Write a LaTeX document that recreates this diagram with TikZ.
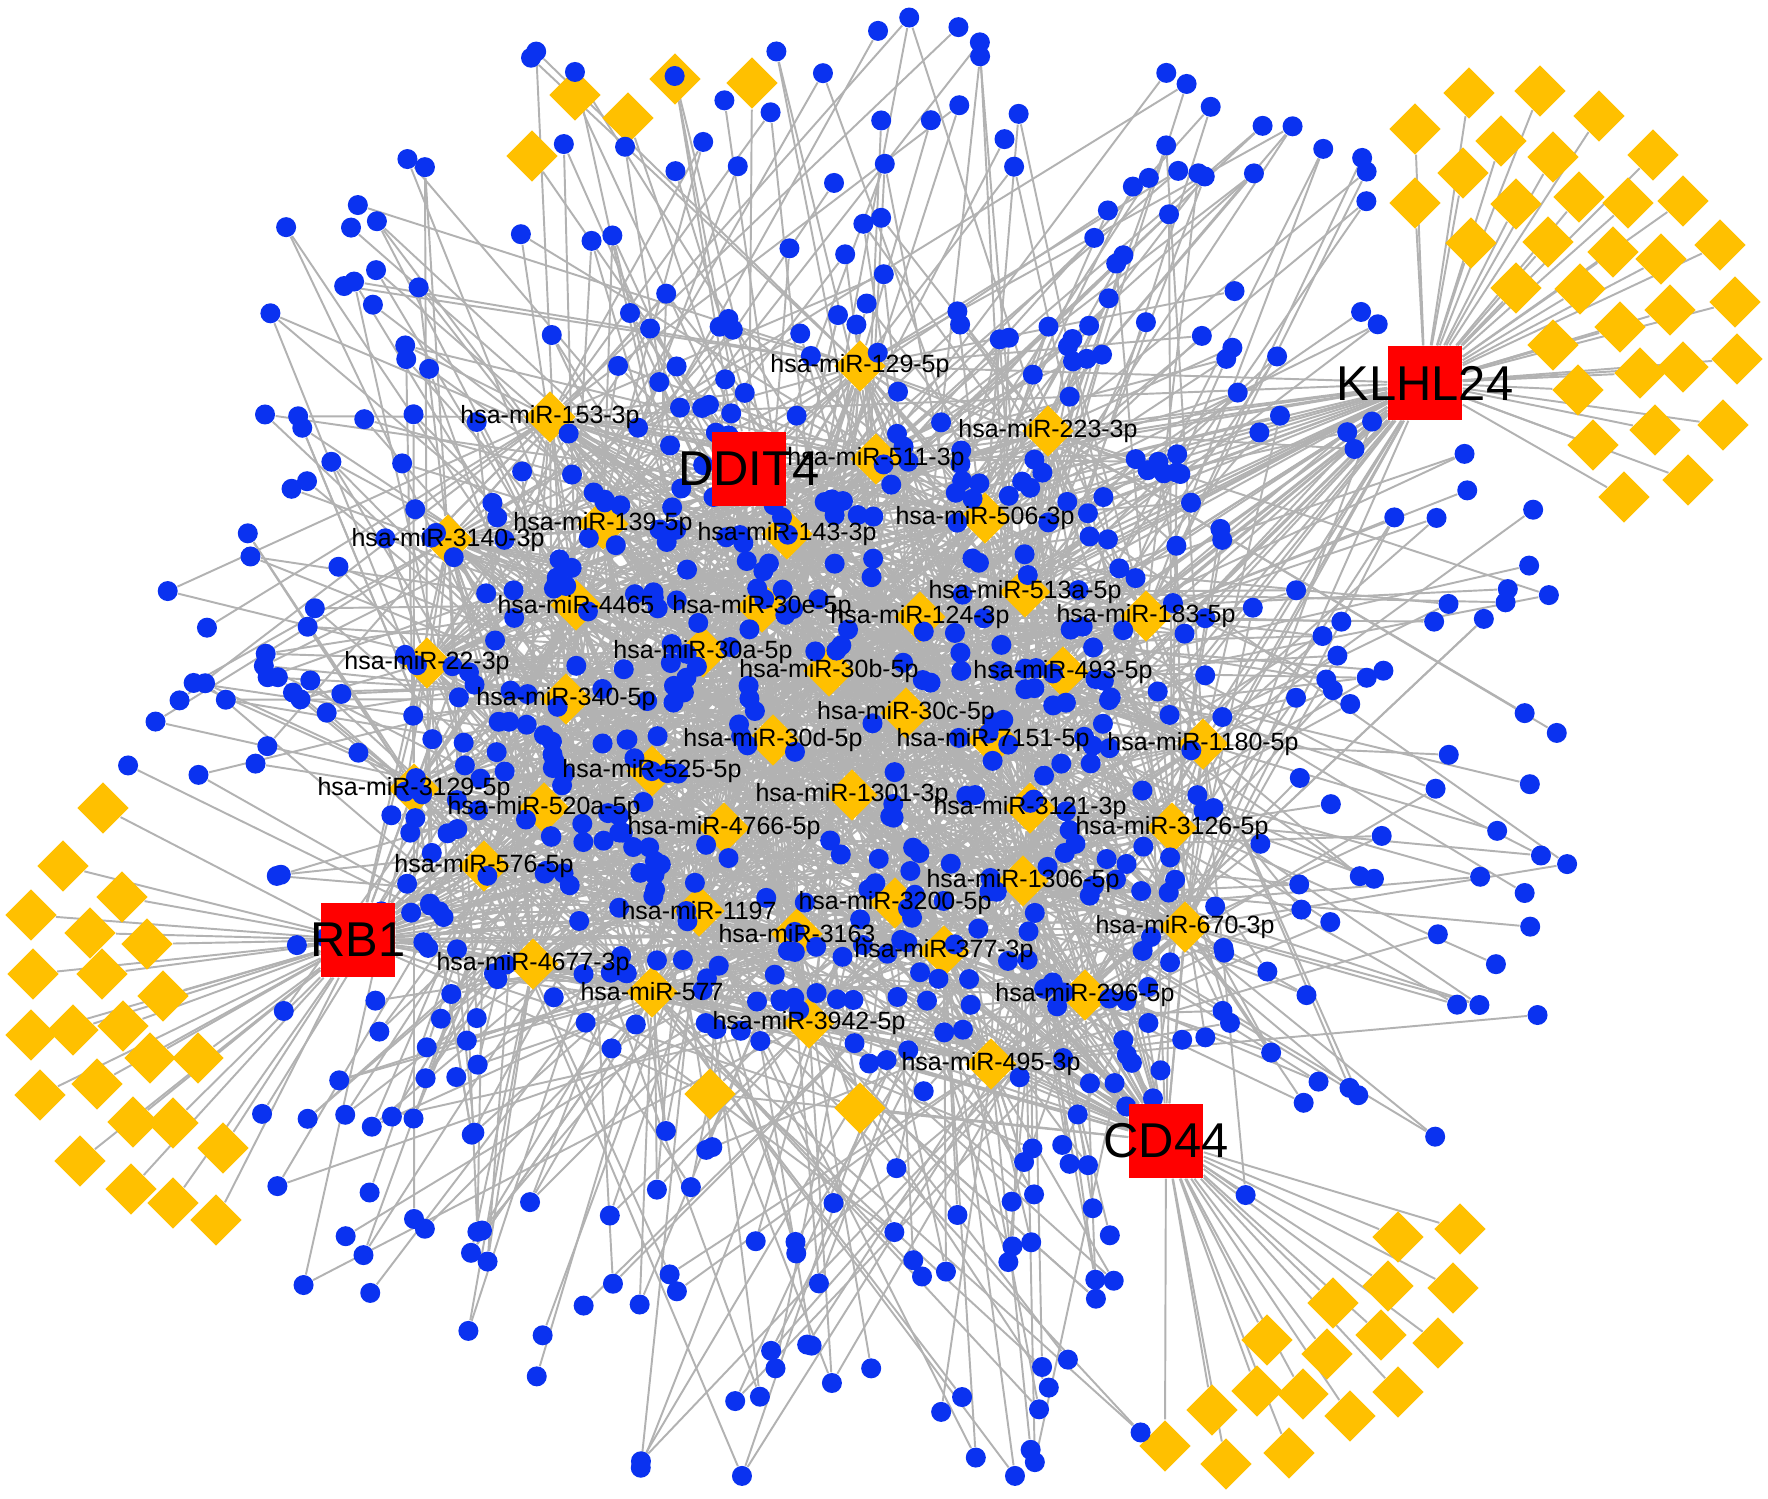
\documentclass[tikz,border=0pt]{standalone}
\usepackage{fontspec}
\setmainfont{Liberation Sans}
\usetikzlibrary{shapes.geometric}
\pgfdeclarelayer{background}
\pgfdeclarelayer{foreground}
\pgfsetlayers{background,main,foreground}
\definecolor{dotblue}{RGB}{10,50,240}
\definecolor{mirorange}{RGB}{255,192,0}
\definecolor{genered}{RGB}{255,0,0}
\definecolor{edgegray}{RGB}{178,178,178}
\def\mirlist{1/860/366/129-5p, 2/550/417/153-3p, 3/1048/431/223-3p, 4/876/459/511-3p,
5/603/524/139-5p, 6/787/534/143-3p, 7/985/518/506-3p, 8/448/540/3140-3p,
9/576/605/4465, 10/762/607/30e-5p, 11/920/617/124-3p, 12/1025/592/513a-5p,
13/1146/616/183-5p, 14/427/663/22-3p, 15/703/652/30a-5p, 16/829/671/30b-5p,
17/1063/672/493-5p, 18/566/699/340-5p, 19/906/713/30c-5p, 20/773/740/30d-5p,
21/993/740/7151-5p, 22/1203/744/1180-5p, 23/652/771/525-5p, 24/414/789/3129-5p,
25/852/795/1301-3p, 26/544/808/520a-5p, 27/1030/808/3121-3p, 28/724/828/4766-5p,
29/1172/828/3126-5p, 30/484/866/576-5p, 31/1023/881/1306-5p, 32/699/911/1197,
33/895/903/3200-5p, 34/797/934/3163, 35/1185/927/670-3p, 36/944/951/377-3p,
37/533/964/4677-3p, 38/652/992/577, 39/1085/995/296-5p, 40/809/1023/3942-5p,
41/991/1064/495-3p}
\def\klist{1/1415/129, 2/1469/93, 3/1540/91, 4/1599/116, 5/1501/141, 6/1553/157,
 7/1463/173, 8/1415/203, 9/1653/155, 10/1516/204, 11/1579/197, 12/1628/203, 13/1683/201,
 14/1471/243, 15/1548/242, 16/1613/252, 17/1661/259, 18/1720/245, 19/1516/288, 20/1580/289,
 21/1670/310, 22/1735/302, 23/1620/327, 24/1553/345, 25/1737/359, 26/1640/373, 27/1683/367,
 28/1578/390, 29/1723/425, 30/1655/430, 31/1593/445, 32/1688/480, 33/1624/497}
\def\rlist{1/103/808, 2/63/866, 3/122/897, 4/31/915, 5/90/933, 6/147/944, 7/33/974,
 8/102/974, 9/163/996, 10/31/1035, 11/73/1030, 12/123/1026, 13/150/1058, 14/198/1058,
 15/40/1095, 16/97/1084, 17/133/1122, 18/173/1123, 19/223/1148, 20/80/1161, 21/131/1189,
 22/173/1203, 23/216/1220}
\def\dlist{1/1398/1237, 2/1460/1229, 3/1388/1286, 4/1453/1288, 5/1333/1303,
 6/1381/1335, 7/1438/1343, 8/1267/1340, 9/1327/1354, 10/1398/1392, 11/1257/1391,
 12/1303/1394, 13/1350/1416, 14/1212/1410, 15/1165/1446, 16/1226/1464, 17/1289/1453}
\def\tlist{1/575/95, 2/675/79, 3/752/83, 4/628/118, 5/532/156}
% random parameters of one outer target (same sequence in both passes)
\newcommand{\blueparams}{%
    \pgfmathsetmacro\ang{\rk>140 ? \ak+65*rand : 180*rand}%
    \pgfmathsetmacro\rad{0.5*\rk+(725-0.5*\rk)*rnd}%
    \pgfmathsetmacro\fac{1+0.08*abs(sin(2*\ang))}%
    \pgfmathsetmacro\px{846+\fac*\rad*cos(\ang)}%
    \pgfmathsetmacro\py{745+\fac*\rad*sin(\ang)}%
    \pgfmathsetmacro\sh{(((\px>1380)&&(\py<440))||((\px<240)&&(\py>790))||((\px>1170)&&(\py>1215))) ? 0.62 : 1}%
    \pgfmathsetmacro\qx{846+\sh*(\px-846)}%
    \pgfmathsetmacro\qy{745+\sh*(\py-745)}%
    \pgfmathtruncatemacro\ra{random(1,41)}%
    \pgfmathtruncatemacro\rb{random(1,41)}%
    \pgfmathtruncatemacro\ua{rnd<0.55 ? 1 : 0}%
    \pgfmathtruncatemacro\ub{rnd<0.25 ? 1 : 0}%
}
% random parameters of one central target
\newcommand{\centralparams}{%
    \pgfmathsetmacro\ang{180*rand}%
    \pgfmathsetmacro\rad{330*sqrt(rnd)}%
    \pgfmathsetmacro\qx{800+1.1*\rad*cos(\ang)}%
    \pgfmathsetmacro\qy{720+\rad*sin(\ang)}%
    \pgfmathtruncatemacro\ra{random(1,41)}%
    \pgfmathtruncatemacro\rb{random(1,41)}%
    \pgfmathtruncatemacro\rc{random(1,41)}%
    \pgfmathtruncatemacro\rd{random(1,41)}%
}
\begin{document}
\begin{tikzpicture}[x=0.01cm,y=-0.01cm,
  edge/.style={draw=edgegray, line width=0.55pt},
  bnode/.style={circle, fill=dotblue, inner sep=0pt, minimum size=0.2cm},
  mnode/.style={diamond, fill=mirorange, inner sep=0pt, minimum size=0.52cm},
  gbox/.style={rectangle, fill=genered, inner sep=0pt, minimum size=0.74cm},
  gtext/.style={inner sep=0pt, font=\fontsize{13.9}{16}\selectfont, text=black},
  mlabel/.style={inner sep=0pt, font=\fontsize{7.1}{8}\selectfont, text=black}]
\useasboundingbox (0,0) rectangle (1768,1499);

% ---------- foreground: genes and labels
\begin{pgfonlayer}{foreground}
\foreach \g/\x/\y in {DDIT4/749/469, KLHL24/1425/383, RB1/358/940, CD44/1166/1141} {
  \node[gbox] (\g) at (\x,\y) {};
  \node[gtext] (\g-t) at (\x,\y) {\g};
}
\foreach \k/\x/\y/\t in \mirlist {
  \node[mlabel] (m\k-t) at (\x,\y) {hsa-miR-\t};
}
\end{pgfonlayer}

% ---------- main: diamonds
\foreach \k/\x/\y/\t in \mirlist { \node[mnode] (m\k) at (\x,\y) {}; }
\foreach \i/\x/\y in \klist { \node[mnode] (k\i) at (\x,\y) {}; }
\foreach \i/\x/\y in \rlist { \node[mnode] (r\i) at (\x,\y) {}; }
\foreach \i/\x/\y in \dlist { \node[mnode] (d\i) at (\x,\y) {}; }
\foreach \i/\x/\y in \tlist { \node[mnode] (t\i) at (\x,\y) {}; }
\node[mnode] (c1) at (710,1094) {};
\node[mnode] (c2) at (860,1108) {};

% ---------- main: blue targets (pass A)
\pgfmathsetseed{20240}
\foreach \k/\mx/\my/\t in \mirlist {
  \pgfmathsetmacro\rk{veclen(\mx-846,\my-745)}
  \pgfmathsetmacro\ak{atan2(\my-745,\mx-846)}
  \foreach \j in {1,...,15} {
    \blueparams
    \node[bnode] (b\k-\j) at (\qx,\qy) {};
  }
}
\pgfmathsetseed{777}
\foreach \i in {1,...,110} {
  \centralparams
  \node[bnode] (e\i) at (\qx,\qy) {};
}

% ---------- background: white page and all edges
\begin{pgfonlayer}{background}
\fill[white] (0,0) rectangle (1768,1499);
\foreach \g in {DDIT4,KLHL24,RB1,CD44} {
  \foreach \k in {1,...,41} { \draw[edge] (\g) -- (m\k); }
  \draw[edge] (\g) -- (c1);
  \draw[edge] (\g) -- (c2);
}
\foreach \i/\x/\y in \klist { \draw[edge] (KLHL24) -- (k\i); }
\foreach \i/\x/\y in \rlist { \draw[edge] (RB1) -- (r\i); }
\foreach \i/\x/\y in \dlist { \draw[edge] (CD44) -- (d\i); }
\foreach \i/\x/\y in \tlist { \draw[edge] (DDIT4) -- (t\i); }
% pass B: same random sequences, edges
\pgfmathsetseed{20240}
\foreach \k/\mx/\my/\t in \mirlist {
  \pgfmathsetmacro\rk{veclen(\mx-846,\my-745)}
  \pgfmathsetmacro\ak{atan2(\my-745,\mx-846)}
  \foreach \j in {1,...,15} {
    \blueparams
    \draw[edge] (b\k-\j) -- (m\k);
    \ifnum\ua=1 \draw[edge] (b\k-\j) -- (m\ra);\fi
    \ifnum\ub=1 \draw[edge] (b\k-\j) -- (m\rb);\fi
  }
}
\pgfmathsetseed{777}
\foreach \i in {1,...,110} {
  \centralparams
  \draw[edge] (e\i) -- (m\ra);
  \draw[edge] (e\i) -- (m\rb);
  \draw[edge] (e\i) -- (m\rc);
  \draw[edge] (e\i) -- (m\rd);
}
\end{pgfonlayer}
\end{tikzpicture}
\end{document}
